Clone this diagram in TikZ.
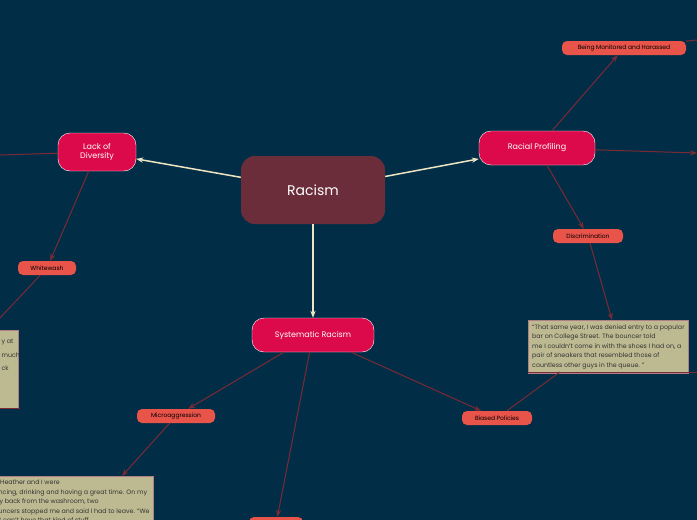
\documentclass[tikz,border=0pt]{standalone}
\usepackage{fontspec}
\setmainfont{Poppins}
\usetikzlibrary{arrows.meta}
\definecolor{bgblue}{HTML}{022D47}
\definecolor{rootfill}{HTML}{6B2D3A}
\definecolor{mainfill}{HTML}{DC0A4B}
\definecolor{subfill}{HTML}{E8534A}
\definecolor{notefill}{HTML}{BDBA92}
\definecolor{cream}{HTML}{EEE6C2}
\definecolor{maroon}{HTML}{7A2A35}
\tikzset{
  root/.style={rectangle, rounded corners=14pt, fill=rootfill, text=white, minimum width=144pt, minimum height=68pt, font=\fontsize{14}{16}\selectfont},
  topic/.style={rectangle, rounded corners=12pt, fill=mainfill, draw=white, text=white, font=\fontsize{8}{9}\selectfont, align=center},
  subtopic/.style={rectangle, rounded corners=5pt, fill=subfill, text=black, inner sep=2pt, minimum height=14pt, font=\fontsize{6}{7}\selectfont},
  note/.style={rectangle, fill=notefill, draw=maroon!60, text=black!80, align=left, anchor=north west, inner sep=4pt, font=\fontsize{6.3}{9.5}\selectfont},
  mainlink/.style={draw=cream, line width=1.5pt, -{Stealth[length=7pt]}},
  sublink/.style={draw=maroon, line width=1pt, -{Stealth[length=7pt]}}
}
\begin{document}
\begin{tikzpicture}[x=1pt, y=-1pt]
  \fill[bgblue] (0,0) rectangle (697,520);
  \clip (0,0) rectangle (697,520);

  % central and main topics
  \node[root] (racism) at (313,190) {Racism};
  \node[topic, minimum width=78pt, minimum height=38pt] (lack) at (97,152) {Lack of\\Diversity};
  \node[topic, minimum width=116pt, minimum height=34pt] (profiling) at (537,148) {Racial Profiling};
  \node[topic, minimum width=122pt, minimum height=34pt] (systematic) at (313,335) {Systematic Racism};

  % subtopics
  \node[subtopic, minimum width=58pt] (whitewash) at (47,268) {Whitewash};
  \node[subtopic, minimum width=124pt] (monitored) at (624,48) {Being Monitored and Harassed};
  \node[subtopic, minimum width=70pt] (discrimination) at (588,236) {Discrimination};
  \node[subtopic, minimum width=78pt] (micro) at (176,416) {Microaggression};
  \node[subtopic, minimum width=70pt] (biased) at (497,418) {Biased Policies};
  \node[subtopic, minimum width=54pt] (hidden) at (276,524) {};

  % notes
  \node[note, minimum height=51pt] (quote) at (528,320) {``That same year, I was denied entry to a popular\\bar on College Street. The bouncer told\\me I couldn't come in with the shoes I had on, a\\pair of sneakers that resembled those of\\countless other guys in the queue. ''\hspace*{20pt}};
  \node[note, minimum width=160pt, minimum height=78pt] (leftnote) at (-142,330) {};
  \node[anchor=north west, text=black!80, font=\fontsize{6.3}{9.5}\selectfont, align=left] at (-2,336) {y at\\[4pt]much\\[4pt]ck};
  \node[note] (heather) at (-14,476) {\hspace*{10pt}Heather and I were\\dancing, drinking and having a great time. On my\\way back from the washroom, two\\bouncers stopped me and said I had to leave. ``We\\just can't have that kind of stuff};
  \draw[maroon, line width=1pt] (0,408) -- (20,408);
  \draw[maroon, line width=1pt] (528,372) -- (697,372);

  % main connectors
  \draw[mainlink] (racism) -- (lack);
  \draw[mainlink] (racism) -- (profiling);
  \draw[mainlink] (racism) -- (systematic);

  % sub connectors
  \coordinate (lackend) at (0,155);
  \coordinate (profend) at (697,153);
  \coordinate (monend) at (697,40);
  \coordinate (washend) at (0,318);
  \draw[maroon, line width=1pt] (lack) -- (lackend);
  \draw[sublink] (lack) -- (whitewash);
  \draw[maroon, line width=1pt] (whitewash) -- (washend);
  \draw[sublink] (profiling) -- (monitored);
  \draw[maroon, line width=1pt] (monitored) -- (monend);
  \draw[sublink] (profiling) -- (profend);
  \draw[sublink] (profiling) -- (discrimination);
  \draw[sublink] (discrimination) -- (612,320);
  \draw[sublink] (systematic) -- (micro);
  \draw[sublink] (systematic) -- (hidden);
  \draw[sublink] (systematic) -- (biased);
  \draw[maroon, line width=1pt] (biased) -- (560,372);
  \draw[sublink] (micro) -- (122,476);
\end{tikzpicture}
\end{document}
